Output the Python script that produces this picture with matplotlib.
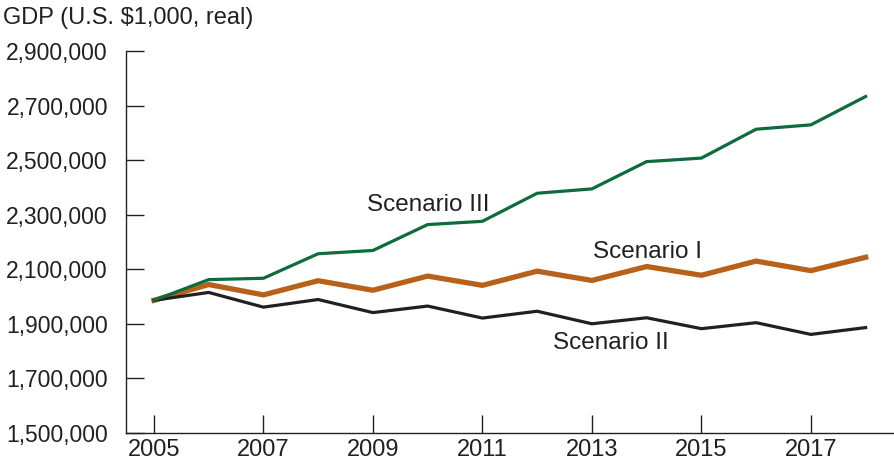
#!/usr/bin/env python3
"""GDP scenarios, 2005-2018 (U.S. $1,000, real)."""

import matplotlib
matplotlib.use("Agg")
import matplotlib.pyplot as plt
from matplotlib.ticker import FuncFormatter

plt.rcParams['font.family'] = ['Liberation Sans', 'DejaVu Sans']

# Values
years = list(range(2005, 2019))
scenario_1 = [1985000, 2043000, 2005000, 2057000, 2022000, 2074000, 2040000,
              2092000, 2058000, 2109000, 2077000, 2129000, 2094000, 2143000]
scenario_2 = [1985000, 2014000, 1960000, 1988000, 1940000, 1964000, 1920000,
              1945000, 1899000, 1921000, 1881000, 1903000, 1860000, 1885000]
scenario_3 = [1985000, 2061000, 2066000, 2156000, 2168000, 2263000, 2275000,
              2378000, 2394000, 2494000, 2507000, 2613000, 2629000, 2733000]

y_ticks = [1500000, 1700000, 1900000, 2100000, 2300000, 2500000, 2700000, 2900000]
x_ticks = [2005, 2007, 2009, 2011, 2013, 2015, 2017]

GREEN = '#0d6b3c'
ORANGE = '#b8611b'
BLACK = '#231f20'

W, H = 895, 465
fig = plt.figure(figsize=(W / 100, H / 100), dpi=100)
ax = fig.add_axes([126 / W, 1 - 432.5 / H, (893 - 126) / W, (432.5 - 51) / H])

ax.plot(years, scenario_2, color=BLACK, lw=2.3, solid_joinstyle='miter', zorder=3)
ax.plot(years, scenario_1, color=ORANGE, lw=3.8, solid_joinstyle='miter', zorder=2)
ax.plot(years, scenario_3, color=GREEN, lw=2.3, solid_joinstyle='miter', zorder=4)

ax.set_xlim(2004.49, 2018.5)
ax.set_ylim(1500000, 2900000)
ax.set_xticks(x_ticks)
ax.set_yticks(y_ticks)
ax.yaxis.set_major_formatter(FuncFormatter(lambda v, p: f'{int(v):,}'))

for s in ('top', 'right'):
    ax.spines[s].set_visible(False)
for s in ('left', 'bottom'):
    ax.spines[s].set_color(BLACK)
    ax.spines[s].set_linewidth(1.0)

ax.tick_params(axis='both', direction='in', length=13, width=1.0,
               color=BLACK, labelcolor=BLACK)
ax.tick_params(axis='y', pad=13, labelsize=16.5)
ax.tick_params(axis='x', pad=5, labelsize=17)

fig.text(3 / W, 1 - 18 / H, 'GDP (U.S. $1,000, real)', fontsize=17,
         color=BLACK, ha='left', va='center')

ax.text(2008.89, 2314000, 'Scenario III', fontsize=17.5, color=BLACK, ha='left', va='baseline')
ax.text(2013.02, 2141000, 'Scenario I', fontsize=17.5, color=BLACK, ha='left', va='baseline')
ax.text(2012.29, 1808000, 'Scenario II', fontsize=17.5, color=BLACK, ha='left', va='baseline')

fig.savefig('out.png', dpi=100)
